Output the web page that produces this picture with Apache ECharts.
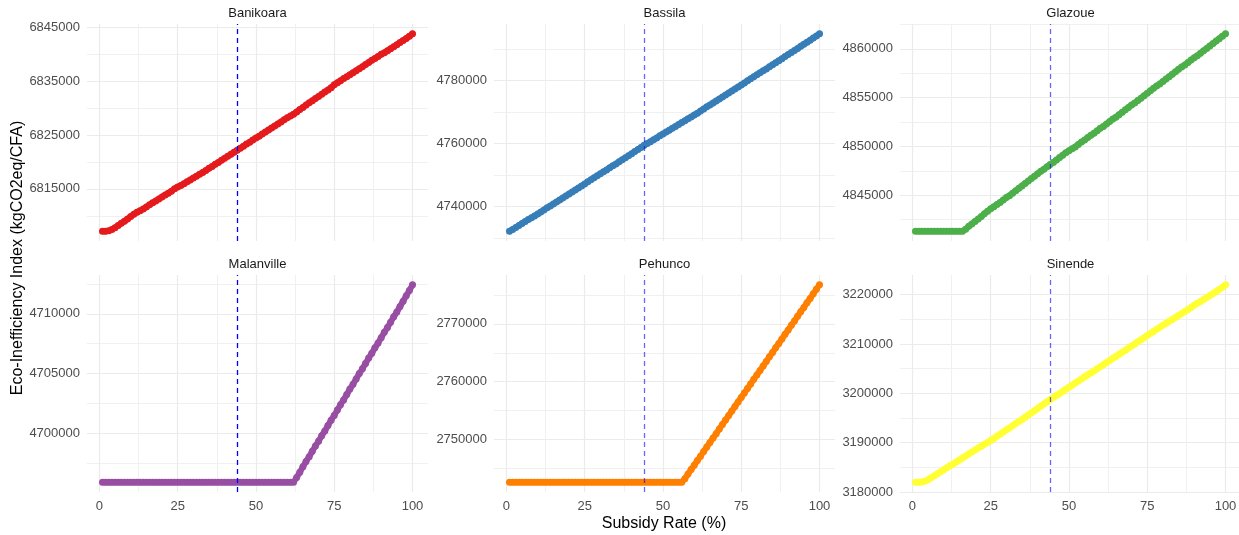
<!DOCTYPE html>
<html>
<head>
<meta charset="utf-8">
<title>Eco-Inefficiency Index by Subsidy Rate</title>
<script src="https://cdn.jsdelivr.net/npm/echarts@6/dist/echarts.min.js"></script>
<style>
  html, body { margin: 0; padding: 0; background: #ffffff; }
  #chart { width: 1239px; height: 535px; }
</style>
</head>
<body>
<div id="chart"></div>
<script>
// Subsidy rate (%) on the horizontal axis
const subsidyRate = [
  1, 2, 3, 4, 5, 6, 7, 8, 9, 10, 11, 12, 13, 14, 15, 16, 17, 18, 19, 20,
  21, 22, 23, 24, 25, 26, 27, 28, 29, 30, 31, 32, 33, 34, 35, 36, 37, 38, 39, 40,
  41, 42, 43, 44, 45, 46, 47, 48, 49, 50, 51, 52, 53, 54, 55, 56, 57, 58, 59, 60,
  61, 62, 63, 64, 65, 66, 67, 68, 69, 70, 71, 72, 73, 74, 75, 76, 77, 78, 79, 80,
  81, 82, 83, 84, 85, 86, 87, 88, 89, 90, 91, 92, 93, 94, 95, 96, 97, 98, 99, 100
];

// Reference subsidy rate (dashed line)
const subsidyRef = 44;

const communes = ['Banikoara', 'Bassila', 'Glazoue', 'Malanville', 'Pehunco', 'Sinende'];
const communeColors = ['#E41A1C', '#377EB8', '#4DAF4A', '#984EA3', '#FF7F00', '#FFFF33'];

// Eco-inefficiency index (kgCO2eq/CFA) per commune
const banikoara = [
  6807150, 6807150, 6807200, 6807450, 6807800, 6808200, 6808600, 6809000, 6809400, 6809850,
  6810300, 6810650, 6810950, 6811250, 6811650, 6812050, 6812400, 6812750, 6813100, 6813500,
  6813850, 6814200, 6814550, 6815000, 6815350, 6815600, 6815950, 6816300, 6816650, 6817000,
  6817350, 6817700, 6818050, 6818400, 6818800, 6819150, 6819550, 6819900, 6820300, 6820650,
  6821050, 6821400, 6821800, 6822150, 6822550, 6822900, 6823300, 6823650, 6824050, 6824450,
  6824750, 6825150, 6825550, 6825900, 6826300, 6826650, 6827050, 6827400, 6827800, 6828200,
  6828500, 6828850, 6829250, 6829700, 6830100, 6830550, 6830950, 6831350, 6831750, 6832150,
  6832550, 6832950, 6833350, 6833750, 6834300, 6834700, 6835050, 6835450, 6835800, 6836150,
  6836550, 6836900, 6837300, 6837650, 6838050, 6838450, 6838850, 6839200, 6839550, 6839950,
  6840250, 6840600, 6841000, 6841350, 6841750, 6842150, 6842500, 6842900, 6843300, 6843750
];
const bassila = [
  4732260, 4732800, 4733400, 4734050, 4734650, 4735300, 4735950, 4736500, 4737100, 4737700,
  4738300, 4739000, 4739650, 4740250, 4740900, 4741500, 4742150, 4742750, 4743400, 4744050,
  4744700, 4745350, 4745950, 4746600, 4747250, 4747900, 4748550, 4749200, 4749850, 4750450,
  4751100, 4751700, 4752350, 4753000, 4753600, 4754250, 4754900, 4755550, 4756200, 4756850,
  4757500, 4758150, 4758800, 4759500, 4760100, 4760650, 4761250, 4761850, 4762500, 4763100,
  4763700, 4764300, 4764900, 4765500, 4766100, 4766700, 4767300, 4767900, 4768500, 4769100,
  4769700, 4770350, 4771000, 4771700, 4772300, 4772950, 4773600, 4774200, 4774850, 4775500,
  4776100, 4776750, 4777400, 4778000, 4778650, 4779300, 4779950, 4780600, 4781250, 4781900,
  4782500, 4783150, 4783750, 4784400, 4785050, 4785700, 4786350, 4787000, 4787650, 4788300,
  4788950, 4789600, 4790250, 4790900, 4791550, 4792200, 4792850, 4793550, 4794200, 4794870
];
const glazoue = [
  4841310, 4841310, 4841310, 4841310, 4841310, 4841310, 4841310, 4841310, 4841310, 4841310,
  4841310, 4841310, 4841310, 4841310, 4841310, 4841310, 4841500, 4841800, 4842050, 4842300,
  4842550, 4842800, 4843100, 4843350, 4843600, 4843800, 4844050, 4844250, 4844500, 4844750,
  4844950, 4845200, 4845450, 4845700, 4845950, 4846200, 4846450, 4846700, 4846950, 4847200,
  4847450, 4847650, 4847900, 4848150, 4848350, 4848600, 4848850, 4849100, 4849350, 4849550,
  4849750, 4849950, 4850200, 4850450, 4850650, 4850900, 4851150, 4851350, 4851600, 4851850,
  4852050, 4852300, 4852550, 4852800, 4853000, 4853250, 4853500, 4853750, 4854000, 4854250,
  4854450, 4854700, 4854950, 4855200, 4855450, 4855700, 4855950, 4856200, 4856400, 4856650,
  4856900, 4857150, 4857400, 4857650, 4857900, 4858150, 4858350, 4858600, 4858850, 4859100,
  4859300, 4859550, 4859800, 4860050, 4860300, 4860550, 4860800, 4861050, 4861300, 4861540
];
const malanville = [
  4695920, 4695920, 4695920, 4695920, 4695920, 4695920, 4695920, 4695920, 4695920, 4695920,
  4695920, 4695920, 4695920, 4695920, 4695920, 4695920, 4695920, 4695920, 4695920, 4695920,
  4695920, 4695920, 4695920, 4695920, 4695920, 4695920, 4695920, 4695920, 4695920, 4695920,
  4695920, 4695920, 4695920, 4695920, 4695920, 4695920, 4695920, 4695920, 4695920, 4695920,
  4695920, 4695920, 4695920, 4695920, 4695920, 4695920, 4695920, 4695920, 4695920, 4695920,
  4695920, 4695920, 4695920, 4695920, 4695920, 4695920, 4695920, 4695920, 4695920, 4695920,
  4695920, 4695920, 4696300, 4696750, 4697200, 4697650, 4698050, 4698500, 4698950, 4699350,
  4699800, 4700200, 4700650, 4701100, 4701500, 4701950, 4702400, 4702800, 4703250, 4703700,
  4704100, 4704550, 4705000, 4705400, 4705850, 4706300, 4706700, 4707150, 4707550, 4708000,
  4708450, 4708850, 4709300, 4709750, 4710150, 4710600, 4711050, 4711500, 4711950, 4712420
];
const pehunco = [
  2742610, 2742610, 2742610, 2742610, 2742610, 2742610, 2742610, 2742610, 2742610, 2742610,
  2742610, 2742610, 2742610, 2742610, 2742610, 2742610, 2742610, 2742610, 2742610, 2742610,
  2742610, 2742610, 2742610, 2742610, 2742610, 2742610, 2742610, 2742610, 2742610, 2742610,
  2742610, 2742610, 2742610, 2742610, 2742610, 2742610, 2742610, 2742610, 2742610, 2742610,
  2742610, 2742610, 2742610, 2742610, 2742610, 2742610, 2742610, 2742610, 2742610, 2742610,
  2742610, 2742610, 2742610, 2742610, 2742610, 2742610, 2743200, 2744000, 2744800, 2745550,
  2746350, 2747100, 2747900, 2748700, 2749450, 2750250, 2751000, 2751800, 2752600, 2753350,
  2754150, 2754900, 2755700, 2756500, 2757250, 2758050, 2758800, 2759600, 2760400, 2761150,
  2761950, 2762700, 2763500, 2764300, 2765050, 2765850, 2766600, 2767400, 2768200, 2768950,
  2769750, 2770500, 2771300, 2772100, 2772850, 2773650, 2774400, 2775200, 2776000, 2776750
];
const sinende = [
  3182000, 3182000, 3182050, 3182200, 3182500, 3182900, 3183300, 3183700, 3184100, 3184500,
  3184900, 3185300, 3185700, 3186100, 3186500, 3186900, 3187300, 3187700, 3188100, 3188500,
  3188900, 3189300, 3189700, 3190050, 3190450, 3190850, 3191300, 3191700, 3192150, 3192600,
  3193000, 3193450, 3193900, 3194300, 3194700, 3195150, 3195600, 3196050, 3196500, 3196950,
  3197400, 3197850, 3198300, 3198750, 3199150, 3199550, 3199950, 3200400, 3200850, 3201250,
  3201650, 3202100, 3202500, 3202900, 3203350, 3203750, 3204150, 3204550, 3205000, 3205400,
  3205800, 3206250, 3206650, 3207100, 3207500, 3207950, 3208350, 3208750, 3209200, 3209600,
  3210000, 3210450, 3210850, 3211300, 3211750, 3212150, 3212550, 3213000, 3213400, 3213800,
  3214200, 3214600, 3215000, 3215400, 3215800, 3216200, 3216600, 3217000, 3217400, 3217850,
  3218250, 3218650, 3219050, 3219450, 3219850, 3220250, 3220650, 3221050, 3221500, 3222000
];

// Axis breaks
const xBreaks = [0, 25, 50, 75, 100];
const banikoaraBreaks = [6815000, 6825000, 6835000, 6845000];
const bassilaBreaks = [4740000, 4760000, 4780000];
const glazoueBreaks = [4845000, 4850000, 4855000, 4860000];
const malanvilleBreaks = [4700000, 4705000, 4710000];
const pehuncoBreaks = [2750000, 2760000, 2770000];
const sinendeBreaks = [3180000, 3190000, 3200000, 3210000, 3220000];

const seriesValues = [banikoara, bassila, glazoue, malanville, pehunco, sinende];
const yBreaks = [banikoaraBreaks, bassilaBreaks, glazoueBreaks, malanvilleBreaks, pehuncoBreaks, sinendeBreaks];

// ---- layout ----
const FONT = '"Liberation Sans", Arial, Helvetica, sans-serif';
const colLeft = [87, 494, 900];
const rowTop = [24, 275];
const panelW = 341;
const panelH = 217;
const gridMajor = { color: '#ebebeb', width: 1.2 };
const gridMinor = { color: '#f0f0f0', width: 1 };

// ggplot-like 5% expansion of a numeric range
function expand(values) {
  const lo = Math.min.apply(null, values);
  const hi = Math.max.apply(null, values);
  const pad = (hi - lo) * 0.05;
  return [lo - pad, hi + pad];
}
// minor breaks halfway between (and around) the major ones
function minorBreaks(breaks) {
  const step = breaks[1] - breaks[0];
  const out = breaks.map(v => v - step / 2);
  out.push(breaks[breaks.length - 1] + step / 2);
  return out;
}

const xExt = expand(subsidyRate);
const grids = [], xAxes = [], yAxes = [], series = [], graphics = [];

communes.forEach((name, i) => {
  const r = Math.floor(i / 3), c = i % 3;
  grids.push({
    left: colLeft[c], top: rowTop[r], width: panelW, height: panelH,
    containLabel: false, outerBoundsMode: 'none'
  });
  const yExt = expand(seriesValues[i]);

  // major x axis (labels on bottom row)
  xAxes.push({
    type: 'value', gridIndex: i, min: xExt[0], max: xExt[1],
    axisLine: { show: false }, axisTick: { show: false, customValues: xBreaks },
    axisLabel: {
      show: r === 1, customValues: xBreaks, color: '#4d4d4d', fontSize: 13,
      fontFamily: FONT, margin: 8, formatter: v => String(v)
    },
    splitLine: { show: true, lineStyle: gridMajor }
  });
  // minor x grid
  xAxes.push({
    type: 'value', gridIndex: i, min: xExt[0], max: xExt[1],
    axisLine: { show: false }, axisTick: { show: false, customValues: minorBreaks(xBreaks) },
    axisLabel: { show: false }, splitLine: { show: true, lineStyle: gridMinor }
  });
  // major y axis
  yAxes.push({
    type: 'value', gridIndex: i, min: yExt[0], max: yExt[1],
    axisLine: { show: false }, axisTick: { show: false, customValues: yBreaks[i] },
    axisLabel: {
      show: true, customValues: yBreaks[i], color: '#4d4d4d', fontSize: 13,
      fontFamily: FONT, margin: 7, formatter: v => String(v)
    },
    splitLine: { show: true, lineStyle: gridMajor }
  });
  // minor y grid
  yAxes.push({
    type: 'value', gridIndex: i, min: yExt[0], max: yExt[1],
    axisLine: { show: false }, axisTick: { show: false, customValues: minorBreaks(yBreaks[i]) },
    axisLabel: { show: false }, splitLine: { show: true, lineStyle: gridMinor }
  });

  series.push({
    type: 'line', name: name,
    xAxisIndex: i * 2, yAxisIndex: i * 2,
    data: subsidyRate.map((x, k) => [x, seriesValues[i][k]]),
    showSymbol: true, symbol: 'circle', symbolSize: 7,
    itemStyle: { color: communeColors[i], opacity: 1, borderWidth: 0 },
    lineStyle: { color: communeColors[i], width: 6, cap: 'round', join: 'round' },
    silent: true,
    markLine: {
      silent: true, symbol: 'none', label: { show: false },
      lineStyle: { color: c === 0 ? '#0000ff' : 'rgba(0,0,255,0.6)', type: [5, 4], width: 1.3 },
      data: [{ xAxis: subsidyRef }]
    },
    z: 3
  });

  // facet strip label
  graphics.push({
    type: 'text', x: colLeft[c] + panelW / 2, y: rowTop[r] - 11,
    style: {
      text: name, fill: '#1a1a1a', font: '13px ' + FONT,
      textAlign: 'center', textVerticalAlign: 'middle'
    }
  });
});

// axis titles
graphics.push({
  type: 'text', x: 664, y: 524,
  style: {
    text: 'Subsidy Rate (%)', fill: '#000000', font: '16px ' + FONT,
    textAlign: 'center', textVerticalAlign: 'middle'
  }
});
graphics.push({
  type: 'text', x: 18, y: 258, rotation: Math.PI / 2,
  style: {
    text: 'Eco-Inefficiency Index (kgCO2eq/CFA)', fill: '#000000', font: '16px ' + FONT,
    textAlign: 'center', textVerticalAlign: 'middle'
  }
});

const chart = echarts.init(document.getElementById('chart'), null, { renderer: 'canvas' });
chart.setOption({
  animation: false,
  backgroundColor: '#ffffff',
  grid: grids,
  xAxis: xAxes,
  yAxis: yAxes,
  series: series,
  graphic: graphics
});
</script>
</body>
</html>
